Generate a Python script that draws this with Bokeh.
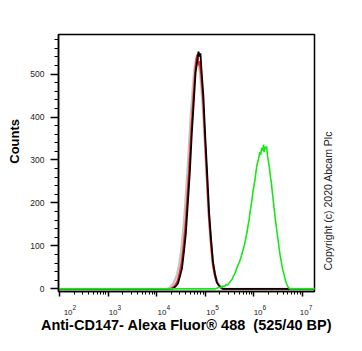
import numpy as np
from bokeh.plotting import figure
from bokeh.models import FixedTicker, Range1d, LogAxis, LinearAxis
from bokeh.embed import file_html
from bokeh.resources import INLINE

# ---- data ----
decades = [2, 3, 4, 5, 6, 7]
decade_base = "10"
decade_exponents = ["2", "3", "4", "5", "6", "7"]
y_ticks = [0, 100, 200, 300, 400, 500]

# log10(fluorescence) bin positions and counts
gray_logx = [1.95, 4.22, 4.26, 4.30, 4.34, 4.38, 4.42, 4.46, 4.50, 4.54, 4.58, 4.62, 4.66, 4.70,
             4.74, 4.78, 4.82, 4.85, 4.89, 4.93, 4.97, 5.01, 5.05, 5.09, 5.13, 5.17, 5.21,
             5.25, 5.29, 5.33, 5.37, 5.41, 7.30]
gray_counts = [0, 0, 2, 6, 12, 22, 34, 55, 85, 128, 182, 250, 322, 398,
               462, 515, 538, 530, 505, 455, 385, 300, 215, 142, 88, 50, 28,
               16, 9, 4, 1, 0, 0]

red_logx = [1.95, 4.27, 4.31, 4.35, 4.39, 4.43, 4.47, 4.51, 4.55, 4.59, 4.63, 4.67, 4.71, 4.75,
            4.79, 4.82, 4.84, 4.86, 4.88, 4.91, 4.95, 4.99, 5.03, 5.07, 5.11, 5.15, 5.19,
            5.23, 5.27, 5.31, 5.35, 5.39, 7.30]
red_counts = [0, 0, 2, 5, 11, 20, 38, 62, 100, 150, 218, 290, 372, 445,
              508, 540, 546, 520, 530, 498, 440, 350, 258, 170, 108, 58, 32,
              16, 9, 4, 1, 0, 0]

black_logx = [1.95, 4.32, 4.36, 4.40, 4.44, 4.48, 4.52, 4.56, 4.60, 4.64, 4.68, 4.72, 4.76, 4.80,
              4.84, 4.86, 4.88, 4.90, 4.92, 4.96, 5.00, 5.04, 5.08, 5.12, 5.16, 5.20, 5.24,
              5.28, 5.32, 5.36, 7.30]
black_counts = [0, 0, 3, 7, 14, 30, 48, 86, 130, 199, 268, 357, 430, 503,
                536, 552, 541, 548, 512, 450, 352, 266, 175, 114, 61, 35, 15,
                8, 3, 0, 0]

green_logx = [1.95, 5.20, 5.25, 5.30, 5.33, 5.36, 5.40, 5.43, 5.46, 5.49, 5.52, 5.55, 5.58, 5.61,
              5.64, 5.67, 5.70, 5.73, 5.76, 5.78, 5.80, 5.83, 5.86, 5.88, 5.90, 5.92, 5.94,
              5.96, 5.98, 6.00, 6.02, 6.04, 6.06, 6.08, 6.10, 6.12, 6.14, 6.16, 6.18, 6.20,
              6.21, 6.22, 6.24, 6.26, 6.28, 6.30, 6.32, 6.34, 6.36, 6.38, 6.40, 6.42, 6.44,
              6.46, 6.48, 6.50, 6.52, 6.54, 6.56, 6.58, 6.60, 6.62, 6.64, 6.66, 6.68, 6.70,
              6.72, 6.75, 7.30]
green_counts = [0, 0, 2, 4, 3, 7, 6, 10, 9, 14, 18, 22, 30, 36,
                46, 55, 62, 72, 84, 92, 100, 116, 133, 148, 160, 178, 192,
                208, 225, 240, 252, 270, 286, 296, 305, 318, 312, 328, 322, 336,
                318, 330, 325, 332, 310, 296, 280, 262, 246, 224, 204, 184, 162,
                146, 128, 112, 94, 78, 66, 52, 42, 34, 24, 16, 10, 5,
                2, 0, 0]

copyright_text = "Copyright (c) 2020 Abcam Plc"

series = [
    (gray_logx, gray_counts, "#c4c4c4", 2.4),
    (red_logx, red_counts, "#ff2020", 1.6),
    (black_logx, black_counts, "#000000", 1.8),
    (green_logx, green_counts, "#19e619", 1.6),
]

X_LO, X_HI = 1.979, 7.247
Y_LO, Y_HI = -6, 592
FRAME_W = 256
PX_PER_DEC = FRAME_W / (X_HI - X_LO)

p = figure(width=356, height=345, x_axis_type="log",
           x_range=Range1d(10 ** X_LO, 10 ** X_HI), y_range=Range1d(Y_LO, Y_HI),
           output_backend="svg", toolbar_location=None,
           min_border_left=58, min_border_right=42, min_border_top=34, min_border_bottom=54)

for lx, cnt, col, w in series:
    p.line(10 ** np.array(lx, dtype=float), cnt, line_color=col, line_width=w)

p.grid.visible = False
p.outline_line_color = "black"
p.outline_line_width = 1.5
p.background_fill_color = "white"
p.border_fill_color = "white"

FONT = "Liberation Sans"
NB = "\u00a0"

# --- x axis 1: line + ticks only ---
xt = [10.0 ** d for d in decades]
minor = [k * 10.0 ** d for d in decades[:-1] for k in range(2, 10)]
ax1 = p.xaxis[0]
ax1.ticker = FixedTicker(ticks=xt, minor_ticks=minor)
ax1.major_label_overrides = {t: "" for t in xt}
ax1.major_label_text_font_size = "1px"
ax1.major_label_standoff = 0
ax1.axis_line_width = 1.5
ax1.major_tick_line_width = 1.5
ax1.minor_tick_line_width = 1
ax1.major_tick_in = 0
ax1.minor_tick_in = 0
ax1.major_tick_out = 5
ax1.minor_tick_out = 3

# --- x axis 2: "10" of each decade label ---
def shift(d, px):
    return 10.0 ** (d + px / PX_PER_DEC)

base_off = [8.6, 5.0, 5.3, 5.5, 4.2, 1.8]
base_pos = [shift(d, o) for d, o in zip(decades, base_off)]
ax2 = LogAxis(ticker=FixedTicker(ticks=base_pos, minor_ticks=[]),
              major_label_overrides={t: decade_base for t in base_pos})
ax2.axis_line_color = None
ax2.major_tick_line_color = None
ax2.minor_tick_line_color = None
ax2.major_tick_out = 0
ax2.minor_tick_out = 0
ax2.major_label_standoff = 13
ax2.major_label_text_font = FONT
ax2.major_label_text_font_size = "8px"
ax2.major_label_text_color = "#222222"
p.add_layout(ax2, "below")

# --- x axis 3: exponents + axis title ---
exp_pos = [shift(d, o + 6.2) for d, o in zip(decades, base_off)]
ax3 = LogAxis(ticker=FixedTicker(ticks=exp_pos, minor_ticks=[]),
              major_label_overrides={t: e for t, e in zip(exp_pos, decade_exponents)})
ax3.axis_line_color = None
ax3.major_tick_line_color = None
ax3.minor_tick_line_color = None
ax3.major_tick_out = 0
ax3.minor_tick_out = 0
ax3.major_label_standoff = -13
ax3.major_label_text_font = FONT
ax3.major_label_text_font_size = "6.5px"
ax3.major_label_text_color = "#222222"
ax3.axis_label = "Anti-CD147- Alexa Fluor\u00ae 488 " + NB + "(525/40 BP)"
ax3.axis_label_text_font = FONT
ax3.axis_label_text_font_style = "bold"
ax3.axis_label_text_font_size = "14.5px"
ax3.axis_label_text_color = "black"
ax3.axis_label_standoff = 4
p.add_layout(ax3, "below")

# --- y axis ---
ay = p.yaxis[0]
ay.ticker = FixedTicker(ticks=y_ticks, minor_ticks=list(range(0, 600, 20)))
ay.axis_line_width = 1.5
ay.major_tick_line_width = 1.5
ay.minor_tick_line_width = 1
ay.major_tick_in = 0
ay.minor_tick_in = 0
ay.major_tick_out = 8
ay.minor_tick_out = 4
ay.major_label_standoff = 6
ay.major_label_text_font = FONT
ay.major_label_text_font_size = "8.5px"
ay.major_label_text_color = "#222222"
ay.axis_label = NB * 12 + "Counts"
ay.axis_label_text_font = FONT
ay.axis_label_text_font_style = "bold"
ay.axis_label_text_font_size = "13px"
ay.axis_label_text_color = "black"
ay.axis_label_standoff = 5

# --- copyright note on the right, drawn as a rotated tick label ---
# anchor: the text starts (bottom end) about 18 px above the frame bottom
frame_h = 345 - 34 - 54
anchor = Y_LO + (Y_HI - Y_LO) * (21 / frame_h)
ar = LinearAxis(ticker=FixedTicker(ticks=[anchor], minor_ticks=[]),
                major_label_overrides={anchor: copyright_text})
ar.axis_line_color = None
ar.major_tick_line_color = None
ar.minor_tick_line_color = None
ar.major_tick_out = 0
ar.minor_tick_out = 0
ar.major_label_orientation = float(np.pi / 2)
ar.major_label_standoff = 13
ar.major_label_text_font = FONT
ar.major_label_text_font_size = "10.5px"
ar.major_label_text_color = "#222222"
p.add_layout(ar, "right")

open("out.html", "w").write(file_html(p, INLINE))
